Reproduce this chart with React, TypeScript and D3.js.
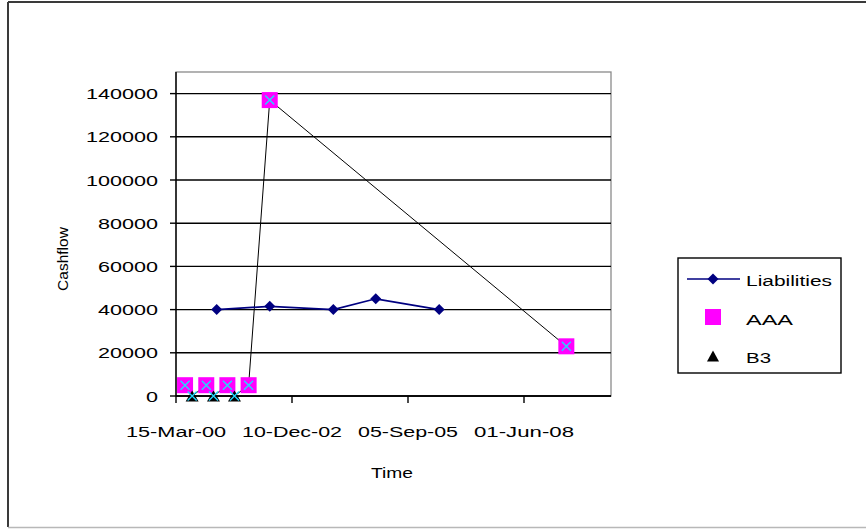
import React from "react";
import * as d3 from "d3";

// Dates as ISO strings, values in currency units
const liabilityDates = ["2001-03-01", "2002-06-01", "2003-12-01", "2004-12-01", "2006-06-01"];
const liabilityValues = [40000, 41500, 40000, 45000, 40000];

const aaaDates = ["2000-06-01", "2000-12-01", "2001-06-01", "2001-12-01", "2002-06-01", "2009-06-01"];
const aaaValues = [5000, 5000, 5000, 5000, 137000, 23000];

const b3Dates = ["2000-08-01", "2001-02-01", "2001-08-01"];
const b3Values = [0, 0, 0];

// Combined cash-flow path (drawn with X markers, no legend entry)
const totalDates = ["2000-06-01", "2000-08-01", "2000-12-01", "2001-02-01", "2001-06-01", "2001-08-01", "2001-12-01", "2002-06-01", "2009-06-01"];
const totalValues = [5000, 0, 5000, 0, 5000, 0, 5000, 137000, 23000];

const xTickDates = ["2000-03-15", "2002-12-10", "2005-09-05", "2008-06-01"];
const xTickLabels = ["15-Mar-00", "10-Dec-02", "05-Sep-05", "01-Jun-08"];
const yTicks = [0, 20000, 40000, 60000, 80000, 100000, 120000, 140000];
const legendLabels = ["Liabilities", "AAA", "B3"];

const parse = (s: string) => new Date(s + "T00:00:00Z");

const FONT = "'Liberation Sans', Arial, sans-serif";

export default function App() {
  const W = 867;
  const H = 529;
  const plot = { left: 176, right: 611, top: 72, bottom: 396 };

  const start = parse("2000-03-15");
  const end = d3.utcDay.offset(start, 3750);
  const x = d3.scaleUtc().domain([start, end]).range([plot.left, plot.right]);
  const y = d3.scaleLinear().domain([0, 150000]).range([plot.bottom, plot.top]);

  const liab = liabilityDates.map((d, i) => ({ x: x(parse(d)), y: y(liabilityValues[i]) }));
  const aaa = aaaDates.map((d, i) => ({ x: x(parse(d)), y: y(aaaValues[i]) }));
  const b3 = b3Dates.map((d, i) => ({ x: x(parse(d)), y: y(b3Values[i]) }));
  const total = totalDates.map((d, i) => ({ x: x(parse(d)), y: y(totalValues[i]) }));

  const line = d3.line<{ x: number; y: number }>().x((p) => p.x).y((p) => p.y);

  const diamond = (cx: number, cy: number, r: number) =>
    `M${cx},${cy - r}L${cx + r},${cy}L${cx},${cy + r}L${cx - r},${cy}Z`;
  const triangle = (cx: number, cy: number, w: number, h: number) =>
    `M${cx},${cy - h / 2}L${cx + w / 2},${cy + h / 2}L${cx - w / 2},${cy + h / 2}Z`;
  const cross = (cx: number, cy: number, r: number) =>
    `M${cx - r},${cy - r}L${cx + r},${cy + r}M${cx - r},${cy + r}L${cx + r},${cy - r}`;

  const legend = { x: 678, y: 258, w: 163, h: 115 };

  return (
    <svg
      width={W}
      height={H}
      style={{ position: "absolute", left: 0, top: 0, background: "#fff" }}
      fontFamily={FONT}
    >
      {/* chart frame */}
      <line x1={8} y1={2} x2={8} y2={527} stroke="#3a3a3a" strokeWidth={2} />
      <line x1={8} y1={2} x2={866} y2={2} stroke="#3a3a3a" strokeWidth={2} />
      <line x1={8} y1={527.5} x2={866} y2={527.5} stroke="#b8b8b8" strokeWidth={1.5} />

      {/* plot area border */}
      <rect
        x={plot.left}
        y={plot.top}
        width={plot.right - plot.left}
        height={plot.bottom - plot.top}
        fill="none"
        stroke="#8a8a8a"
        strokeWidth={1.3}
      />

      {/* horizontal gridlines */}
      {yTicks.map((t) => (
        <line key={"g" + t} x1={plot.left} x2={plot.right} y1={y(t)} y2={y(t)} stroke="#000" strokeWidth={1.4} />
      ))}

      {/* y axis */}
      <line x1={plot.left} x2={plot.left} y1={plot.top} y2={plot.bottom} stroke="#000" strokeWidth={1.4} />
      {yTicks.map((t) => (
        <g key={"y" + t}>
          <line x1={plot.left - 6} x2={plot.left} y1={y(t)} y2={y(t)} stroke="#000" strokeWidth={1.4} />
          <text
            x={158}
            y={y(t) + 5.5}
            textAnchor="end"
            fontSize={15.5}
            fill="#000"
            textLength={String(t).length * 12}
            lengthAdjust="spacingAndGlyphs"
          >
            {t}
          </text>
        </g>
      ))}

      {/* x axis */}
      <line x1={plot.left} x2={plot.right} y1={plot.bottom} y2={plot.bottom} stroke="#000" strokeWidth={1.4} />
      {xTickDates.map((d, i) => {
        const tx = x(parse(d));
        return (
          <g key={"x" + d}>
            <line x1={tx} x2={tx} y1={plot.bottom} y2={plot.bottom + 7} stroke="#000" strokeWidth={1.4} />
            <text
              x={tx}
              y={437}
              textAnchor="middle"
              fontSize={15.5}
              fill="#000"
              textLength={100}
              lengthAdjust="spacingAndGlyphs"
            >
              {xTickLabels[i]}
            </text>
          </g>
        );
      })}

      {/* axis titles */}
      <text x={392} y={478} textAnchor="middle" fontSize={15.5} textLength={42} lengthAdjust="spacingAndGlyphs">
        Time
      </text>
      <text
        transform={`translate(68,259) rotate(-90)`}
        textAnchor="middle"
        fontSize={15.5}
      >
        Cashflow
      </text>

      {/* series lines */}
      <path d={line(total) || ""} fill="none" stroke="#000" strokeWidth={1} />
      <path d={line(liab) || ""} fill="none" stroke="#000080" strokeWidth={1.7} />

      {/* markers */}
      {liab.map((p, i) => (
        <path key={"ld" + i} d={diamond(p.x, p.y, 5.5)} fill="#000080" />
      ))}
      {aaa.map((p, i) => (
        <rect key={"aq" + i} x={p.x - 8} y={p.y - 8} width={16} height={16} fill="#ff00ff" />
      ))}
      {b3.map((p, i) => (
        <path key={"bt" + i} d={triangle(p.x, p.y, 13, 11)} fill="#000" />
      ))}
      {total.map((p, i) => (
        <path key={"tx" + i} d={cross(p.x, p.y, 4.5)} stroke="#22d8ff" strokeWidth={1.4} fill="none" />
      ))}

      {/* legend */}
      <rect x={legend.x} y={legend.y} width={legend.w} height={legend.h} fill="#fff" stroke="#000" strokeWidth={1.4} />
      <line x1={687} x2={740} y1={279} y2={279} stroke="#000080" strokeWidth={1.7} />
      <path d={diamond(713, 279, 5.5)} fill="#000080" />
      <rect x={705} y={309} width={16} height={16} fill="#ff00ff" />
      <path d={triangle(713, 356, 12, 11)} fill="#000" />
      {legendLabels.map((l, i) => (
        <text
          key={l}
          x={746}
          y={[286, 325, 363][i]}
          fontSize={15.5}
          textLength={[86, 47, 25][i]}
          lengthAdjust="spacingAndGlyphs"
        >
          {l}
        </text>
      ))}
    </svg>
  );
}
